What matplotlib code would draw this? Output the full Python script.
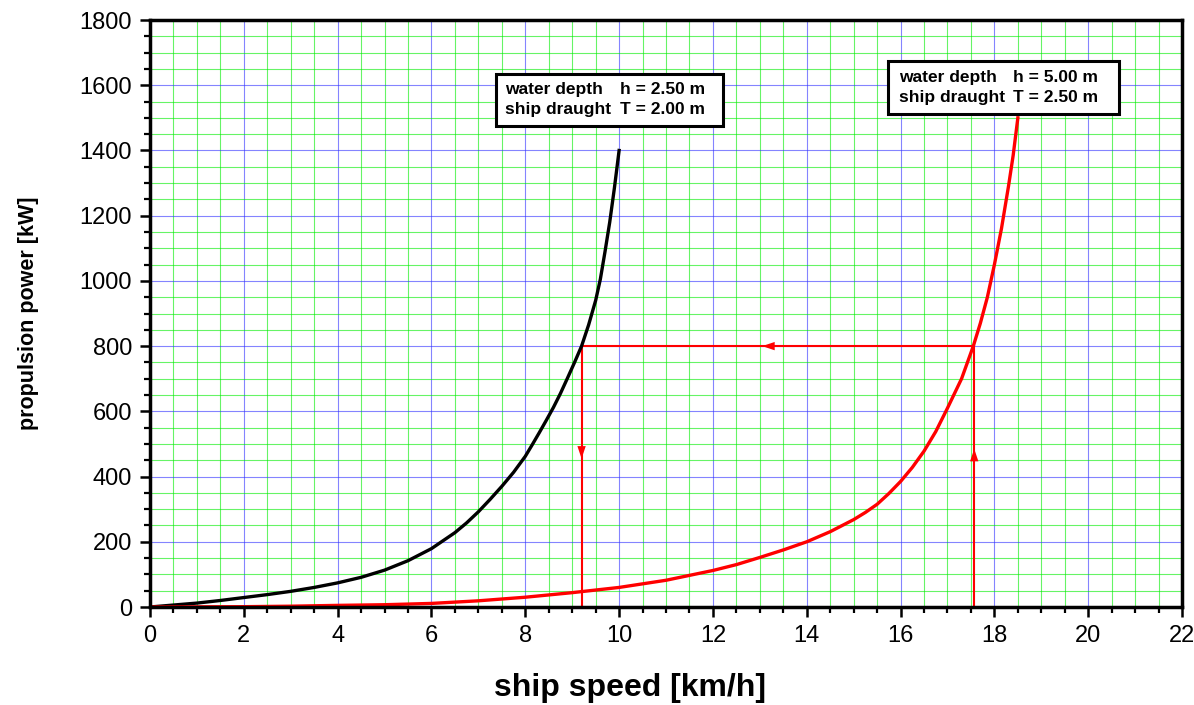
import matplotlib
matplotlib.use("Agg")
import matplotlib.pyplot as plt
from matplotlib.ticker import MultipleLocator
from matplotlib.patches import Rectangle

plt.rcParams['font.family'] = ['Liberation Sans', 'DejaVu Sans']

# shallow water: h = 2.50 m, T = 2.00 m
black_speed = [0, 0.5, 1, 1.5, 2, 2.5, 3, 3.5, 4, 4.5, 5, 5.5, 6, 6.5, 6.75, 7,
               7.25, 7.5, 7.75, 8, 8.15, 8.3, 8.45, 8.6, 8.75, 8.9, 9.05, 9.2,
               9.35, 9.5, 9.6, 9.7, 9.8, 9.9, 10]
black_power = [0, 6, 12, 20, 29, 38, 48, 60, 74, 91, 113, 142, 179, 228, 258, 292,
               330, 370, 413, 462, 498, 535, 573, 612, 655, 702, 750, 800,
               865, 940, 1005, 1090, 1180, 1285, 1400]

# deeper water: h = 5.00 m, T = 2.50 m
red_speed = [0, 1, 2, 3, 4, 5, 6, 7, 8, 9, 10, 11, 12, 12.5, 13, 13.5, 14, 14.5,
             15, 15.25, 15.5, 15.75, 16, 16.25, 16.5, 16.75, 17, 17.15, 17.3,
             17.4, 17.55, 17.7, 17.85, 18, 18.15, 18.3, 18.4, 18.5]
red_power = [0, 0.5, 1, 2.5, 5, 7, 11, 19, 30, 44, 60, 82, 112, 130, 152, 175, 200, 231,
             268, 290, 315, 348, 385, 428, 478, 538, 610, 655, 700,
             740, 800, 870, 950, 1050, 1160, 1290, 1385, 1500]

# operating point: same power, speed drop in shallow water
op_power = 800
speed_deep = 17.57
speed_shallow = 9.2

box_left = ["water depth\nship draught", "water depth\nship draught"]
box_right = ["h = 2.50 m\nT = 2.00 m", "h = 5.00 m\nT = 2.50 m"]

fig = plt.figure(figsize=(11.94, 7.05), dpi=100)
ax = fig.add_axes([0.1256, 0.139, 0.8644, 0.8326])

ax.set_xlim(0, 22)
ax.set_ylim(0, 1800)
ax.xaxis.set_major_locator(MultipleLocator(2))
ax.xaxis.set_minor_locator(MultipleLocator(0.5))
ax.yaxis.set_major_locator(MultipleLocator(200))
ax.yaxis.set_minor_locator(MultipleLocator(50))

ax.grid(which='minor', color='#00ee00', lw=0.8, alpha=0.6)
ax.grid(which='major', color='#3333ff', lw=0.8, alpha=0.6)
ax.set_axisbelow(True)

ax.plot(black_speed, black_power, color='black', lw=2.4, zorder=4)
ax.plot(red_speed, red_power, color='red', lw=2.4, zorder=4)

# construction lines
ax.plot([speed_deep, speed_deep], [0, op_power], color='red', lw=1.5, zorder=3)
ax.plot([speed_deep, speed_shallow], [op_power, op_power], color='red', lw=1.5, zorder=3)
ax.plot([speed_shallow, speed_shallow], [op_power, 0], color='red', lw=1.5, zorder=3)

head = dict(arrowstyle='-|>,head_length=0.9,head_width=0.3', color='red',
            lw=0, mutation_scale=10, shrinkA=0, shrinkB=0)
ax.annotate("", xy=(speed_deep, 485), xytext=(speed_deep, 440), arrowprops=head, zorder=5)
ax.annotate("", xy=(13.05, op_power), xytext=(13.5, op_power), arrowprops=head, zorder=5)
ax.annotate("", xy=(speed_shallow, 455), xytext=(speed_shallow, 500), arrowprops=head, zorder=5)

# info boxes
boxes = [(7.38, 1476, 4.84, 160, 7.57, 10.02),
         (15.74, 1512, 4.92, 161, 15.97, 18.4)]
for i, (bx, by, bw, bh, tx1, tx2) in enumerate(boxes):
    ax.add_patch(Rectangle((bx, by), bw, bh, facecolor='white', edgecolor='black',
                           lw=2.2, zorder=6))
    ty = by + bh / 2
    ax.text(tx1, ty, box_left[i], fontsize=12.5, fontweight='bold', va='center',
            ha='left', linespacing=1.45, zorder=7)
    ax.text(tx2, ty, box_right[i], fontsize=12.5, fontweight='bold', va='center',
            ha='left', linespacing=1.45, zorder=7)

for side in ['left', 'right', 'top', 'bottom']:
    ax.spines[side].set_linewidth(2.5)
    ax.spines[side].set_zorder(8)

ax.tick_params(which='major', direction='out', length=7, width=1.8, labelsize=17, pad=6)
ax.tick_params(which='minor', direction='out', length=4.5, width=1.6)

ax.set_xlabel("ship speed [km/h]", fontsize=23, fontweight='bold')
ax.xaxis.set_label_coords(0.465, -0.113)
ax.set_ylabel("propulsion power [kW]", fontsize=15.5, fontweight='bold')
ax.yaxis.set_label_coords(-0.108, 0.5)

fig.savefig("out.png", dpi=100)
